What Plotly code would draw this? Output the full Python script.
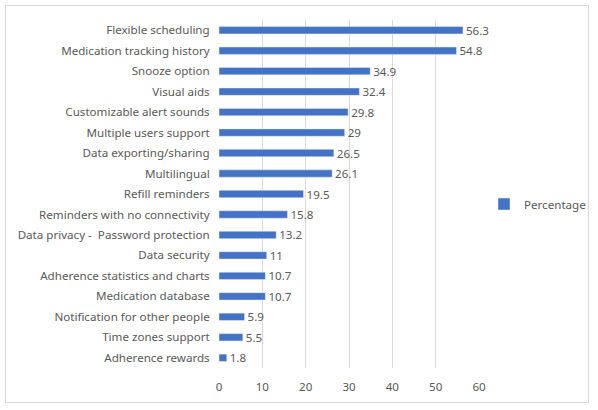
import plotly.graph_objects as go

categories = ["Flexible scheduling", "Medication tracking history", "Snooze option", "Visual aids",
              "Customizable alert sounds", "Multiple users support", "Data exporting/sharing",
              "Multilingual", "Refill reminders", "Reminders with no connectivity",
              "Data privacy -  Password protection", "Data security", "Adherence statistics and charts",
              "Medication database", "Notification for other people", "Time zones support",
              "Adherence rewards"]
values = [56.3, 54.8, 34.9, 32.4, 29.8, 29, 26.5, 26.1, 19.5, 15.8, 13.2, 11, 10.7, 10.7, 5.9, 5.5, 1.8]
tick_vals = [0, 10, 20, 30, 40, 50, 60]

W, H = 598, 410
L, R, T, B = 219, 598 - 479, 20, 410 - 368
pw, ph = W - L - R, H - T - B
FS = 11.6

fig = go.Figure(go.Bar(
    x=values, y=categories, orientation="h", name="Percentage",
    marker_color="#4472C4", text=[str(v) for v in values], textposition="outside",
    constraintext="none",
    textfont=dict(color="#595959", size=FS), cliponaxis=False, showlegend=True,
))

def px(xp):
    return (xp - L) / pw

def py(yp):
    return 1 - (yp - T) / ph

fig.update_layout(
    width=W, height=H, margin=dict(l=L, r=R, t=T, b=B, autoexpand=False),
    paper_bgcolor="white", plot_bgcolor="white",
    font=dict(family="Noto Sans, Open Sans, sans-serif", size=FS, color="#595959"),
    bargap=0.64,
    xaxis=dict(range=[0, 60], tickvals=tick_vals, showgrid=True, gridcolor="#D9D9D9", gridwidth=1,
               zeroline=False, showline=False, ticks="outside", ticklen=8, tickcolor="rgba(0,0,0,0)",
               automargin=False, tickfont=dict(size=FS, color="#595959")),
    yaxis=dict(autorange="reversed", showgrid=False, zeroline=False, showline=False,
               ticks="outside", ticklen=6, tickcolor="rgba(0,0,0,0)", automargin=False,
               tickfont=dict(size=FS, color="#595959")),
    legend=dict(x=px(484), y=py(204), xanchor="left", yanchor="middle", font=dict(size=FS, color="#595959"),
                bgcolor="rgba(0,0,0,0)", itemwidth=30),
    shapes=[dict(type="rect", xref="paper", yref="paper", x0=px(5.5), x1=px(588.5), y0=py(402.5), y1=py(5.5),
                 line=dict(color="#D9D9D9", width=1), fillcolor="rgba(0,0,0,0)", layer="above")],
)

fig.write_html("out.html", config={"displayModeBar": False},
               post_script="document.body.style.margin='0';document.body.style.padding='0';")
